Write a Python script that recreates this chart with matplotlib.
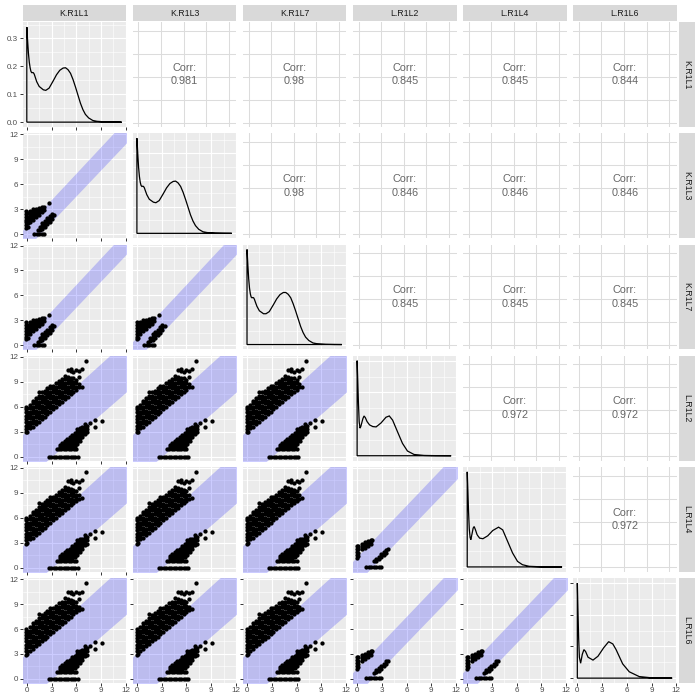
import matplotlib
matplotlib.use("Agg")
import matplotlib.pyplot as plt
from matplotlib.ticker import FixedLocator, MaxNLocator, AutoMinorLocator

plt.rcParams['font.family'] = ['Liberation Sans', 'DejaVu Sans']

names = ['K.R1L1', 'K.R1L3', 'K.R1L7', 'L.R1L2', 'L.R1L4', 'L.R1L6']

# upper triangle correlations, row by row
corr_rows = [
    ['0.981', '0.98', '0.845', '0.845', '0.844'],
    ['0.98', '0.846', '0.846', '0.846'],
    ['0.845', '0.845', '0.845'],
    ['0.972', '0.972'],
    ['0.972'],
]

# diagonal densities
k1_x = [0.0, 0.1, 0.2, 0.3, 0.4, 0.5, 0.6, 0.7, 0.8, 0.9, 1.0, 1.2, 1.5, 2.0, 2.3, 2.7,
        3.2, 3.6, 4.0, 4.4, 4.7, 5.0, 5.3, 5.6, 5.9, 6.2, 6.5, 6.8, 7.1, 7.5, 8.0, 8.5,
        9.5, 10.5, 11.5]
k1_y = [0.341, 0.29, 0.245, 0.215, 0.195, 0.182, 0.177, 0.178, 0.177, 0.172, 0.163,
        0.145, 0.128, 0.116, 0.114, 0.122, 0.148, 0.170, 0.186, 0.194, 0.195, 0.188,
        0.175, 0.153, 0.126, 0.097, 0.068, 0.045, 0.028, 0.015, 0.006, 0.003, 0.001,
        0.0003, 0.0]
k3_y = [0.357, 0.30, 0.248, 0.214, 0.192, 0.180, 0.176, 0.177, 0.176, 0.171, 0.162,
        0.145, 0.128, 0.117, 0.115, 0.123, 0.149, 0.171, 0.187, 0.195, 0.196, 0.189,
        0.176, 0.154, 0.127, 0.098, 0.069, 0.046, 0.029, 0.015, 0.006, 0.003, 0.001,
        0.0003, 0.0]
k7_y = [0.358, 0.30, 0.248, 0.213, 0.191, 0.179, 0.176, 0.177, 0.176, 0.170, 0.161,
        0.144, 0.127, 0.116, 0.116, 0.124, 0.150, 0.172, 0.188, 0.196, 0.196, 0.189,
        0.176, 0.153, 0.126, 0.097, 0.068, 0.045, 0.028, 0.015, 0.006, 0.003, 0.001,
        0.0003, 0.0]

l2_x = [0.0, 0.08, 0.16, 0.25, 0.35, 0.45, 0.55, 0.7, 0.84, 1.0, 1.2, 1.5, 1.9, 2.3,
        2.9, 3.5, 3.9, 4.3, 4.9, 5.5, 6.1, 6.9, 8.1, 9.5, 11.4]
l2_y = [0.600, 0.470, 0.330, 0.215, 0.174, 0.185, 0.205, 0.234, 0.251, 0.240, 0.216,
        0.195, 0.184, 0.182, 0.207, 0.243, 0.251, 0.225, 0.151, 0.078, 0.030, 0.008,
        0.002, 0.0006, 0.0]
l4_x = [0.0, 0.08, 0.16, 0.25, 0.35, 0.44, 0.56, 0.72, 0.84, 1.0, 1.2, 1.5, 1.9, 2.5,
        3.1, 3.8, 4.3, 4.9, 5.5, 6.1, 6.7, 7.5, 9.1, 11.5]
l4_y = [0.600, 0.480, 0.348, 0.240, 0.186, 0.172, 0.203, 0.245, 0.255, 0.234, 0.203,
        0.182, 0.178, 0.197, 0.230, 0.251, 0.234, 0.161, 0.088, 0.035, 0.014, 0.004,
        0.0006, 0.0]
l6_x = [0.0, 0.08, 0.16, 0.25, 0.4, 0.6, 0.8, 1.0, 1.3, 1.9, 2.5, 3.2, 3.8, 4.3, 4.7,
        5.5, 6.3, 7.5, 9.0, 11.5]
l6_y = [0.600, 0.420, 0.252, 0.132, 0.094, 0.150, 0.180, 0.168, 0.132, 0.114, 0.138,
        0.192, 0.230, 0.216, 0.180, 0.090, 0.040, 0.010, 0.002, 0.0]

diag_x = [k1_x, k1_x, k1_x, l2_x, l4_x, l6_x]
diag_y = [k1_y, k3_y, k7_y, l2_y, l4_y, l6_y]

# scatter clusters: columns (x, [y...]) and rows (y, [x...])
kk_cols = [(-0.05, [0.7, 1.05, 1.4, 1.75, 2.1, 2.45, 2.8]), (0.1, [0.9, 1.3, 1.7, 2.1, 2.5]),
           (0.4, [1.4, 1.75, 2.1, 2.45, 2.8]), (0.75, [1.7, 2.05, 2.4, 2.75, 3.0]),
           (1.1, [2.0, 2.35, 2.7, 3.05]), (1.45, [2.3, 2.65, 3.0, 3.2]),
           (1.8, [2.6, 2.95, 3.25]), (2.1, [2.95, 3.3]), (2.73, [3.7]),
           (1.3, [0.45]), (1.6, [0.5, 0.85]), (1.9, [0.65, 1.0, 1.3]),
           (2.2, [0.9, 1.25, 1.6]), (2.5, [1.2, 1.55, 1.9]), (2.8, [1.5, 1.85, 2.2]),
           (3.1, [1.85, 2.2, 2.45]), (3.35, [2.3])]
kk_rows = [(0.0, [0.9, 1.2, 1.5, 1.8, 2.1])]

lk_cols = [(-0.05, [2.9, 3.3, 3.7, 4.1, 4.5, 4.9, 5.3, 5.7, 6.0]),
           (0.08, [3.0, 3.4, 3.8, 4.2, 4.6, 5.0, 5.4, 5.8]),
           (0.4, [3.4, 3.8, 4.2, 4.6, 5.0, 5.4, 5.8, 6.2]),
           (0.75, [3.6, 4.0, 4.4, 4.8, 5.2, 5.6, 6.0, 6.4, 6.7]),
           (1.1, [3.9, 4.3, 4.7, 5.1, 5.5, 5.9, 6.3, 6.7, 7.0]),
           (1.45, [4.2, 4.6, 5.0, 5.4, 5.8, 6.2, 6.6, 7.0, 7.3, 7.8]),
           (1.8, [4.5, 4.9, 5.3, 5.7, 6.1, 6.5, 6.9, 7.3, 7.7]),
           (2.15, [4.8, 5.2, 5.6, 6.0, 6.4, 6.8, 7.2, 7.6, 7.9]),
           (2.5, [5.1, 5.5, 5.9, 6.3, 6.7, 7.1, 7.5, 7.9, 8.2]),
           (2.85, [5.4, 5.8, 6.2, 6.6, 7.0, 7.4, 7.8, 8.2, 8.5]),
           (3.2, [5.7, 6.1, 6.5, 6.9, 7.3, 7.7, 8.1, 8.5]),
           (3.55, [6.0, 6.4, 6.8, 7.2, 7.6, 8.0, 8.4, 8.8]),
           (3.9, [6.3, 6.7, 7.1, 7.5, 7.9, 8.3, 8.7, 9.1]),
           (4.25, [6.6, 7.0, 7.4, 7.8, 8.2, 8.6, 9.0, 9.3]),
           (4.6, [6.9, 7.3, 7.7, 8.1, 8.5, 8.9, 9.3, 9.7]),
           (4.95, [7.2, 7.6, 8.0, 8.4, 8.8, 9.2, 9.6, 10.4]),
           (5.3, [7.5, 7.9, 8.3, 8.7, 9.1, 9.5, 10.3, 10.5]),
           (5.65, [7.8, 8.2, 8.6, 9.0, 9.4, 10.2]),
           (6.0, [8.0, 8.4, 8.8, 9.2, 10.4]), (6.35, [8.3, 8.7, 9.6, 10.3]),
           (6.7, [8.4, 10.5]), (7.2, [11.5]),
           (4.0, [1.15, 1.4]), (4.3, [1.1, 1.4, 1.65]), (4.6, [1.1, 1.4, 1.7, 1.9]),
           (4.9, [1.1, 1.4, 1.7, 2.0, 2.1]), (5.2, [1.1, 1.4, 1.7, 2.0, 2.3]),
           (5.5, [1.2, 1.5, 1.8, 2.1, 2.4, 2.6]), (5.8, [1.3, 1.6, 1.9, 2.2, 2.5, 2.8]),
           (6.1, [1.5, 1.8, 2.1, 2.4, 2.7, 3.0, 3.3]), (6.4, [1.9, 2.2, 2.5, 2.8, 3.1, 3.4]),
           (6.7, [2.3, 2.6, 2.9, 3.2, 3.5]), (7.0, [2.7, 3.0, 3.3, 3.6, 3.9]),
           (7.3, [2.9, 3.3, 3.7]), (7.6, [4.0]), (8.3, [3.6, 4.4]), (9.15, [4.3])]
lk_rows = [(0.0, [2.65, 2.95, 3.25, 3.55, 3.85, 4.15, 4.45, 4.75, 5.05, 5.35, 5.65, 5.9, 6.2]),
           (0.85, [3.6, 3.9, 4.2, 4.5, 4.8, 5.1, 5.4, 5.7, 6.0])]

ll_cols = [(-0.05, [1.2, 1.55, 1.9, 2.25, 2.6]), (0.15, [1.4, 1.8, 2.2, 2.6]),
           (0.6, [2.2, 2.55, 2.85]), (0.95, [2.4, 2.75, 3.05]), (1.3, [2.6, 2.95, 3.2]),
           (1.65, [2.85, 3.2, 3.35]), (1.85, [3.3]),
           (2.0, [0.75]), (2.3, [0.85, 1.1]), (2.6, [1.0, 1.3]), (2.9, [1.25, 1.6]),
           (3.2, [1.5, 1.85]), (3.45, [1.8, 2.1]), (3.7, [2.2])]
ll_rows = [(0.05, [1.1, 1.4, 1.7, 2.0, 2.3, 2.6, 2.9])]

# ribbon edges: (intercept, slope) for lower and upper edge
band_kk = [(-1.65, 1.045), (1.0, 1.06)]
band_lk = [(-2.6, 0.86), (3.1, 0.9)]
band_ll = [(-1.8, 1.03), (1.32, 1.04)]

ticks = [0, 3, 6, 9, 12]


def flatten(cols, rows):
    xs, ys = [], []
    for x, yl in cols:
        xs += [x] * len(yl)
        ys += yl
    for y, xl in rows:
        xs += xl
        ys += [y] * len(xl)
    return xs, ys


fig = plt.figure(figsize=(7, 7), dpi=100)
W = H = 700.0
left0, top0 = 22.7, 22.3
pw, ph, gap = 103.5, 104.6, 6.6
xlim = (-0.5, 12.05)
ylim = (-0.48, 12.1)


def add_px(x, y, w, h):
    return fig.add_axes([x / W, 1 - (y + h) / H, w / W, h / H])


def grey_panel(ax):
    ax.set_facecolor('#EBEBEB')
    ax.set_axisbelow(True)
    ax.grid(which='major', color='white', lw=0.8)
    ax.grid(which='minor', color='white', lw=0.4)
    ax.xaxis.set_major_locator(FixedLocator(ticks))
    ax.xaxis.set_minor_locator(FixedLocator([1.5, 4.5, 7.5, 10.5]))


for r in range(6):
    for c in range(6):
        ax = add_px(left0 + c * (pw + gap), top0 + r * (ph + gap), pw, ph)
        for s in ax.spines.values():
            s.set_visible(False)
        ax.tick_params(which='both', length=0, labelleft=False, labelbottom=False)

        if r < c:
            ax.set_facecolor('white')
            ax.set_xlim(-0.75, 13.0)
            ax.set_ylim(-0.55, 13.1)
            ax.set_xticks(ticks)
            ax.set_yticks(ticks)
            ax.grid(color='#DCDCDC', lw=0.75)
            ax.set_axisbelow(True)
            ax.text(0.5, 0.5, 'Corr:\n' + corr_rows[r][c - r - 1], transform=ax.transAxes,
                    ha='center', va='center', fontsize=7.8, color='#666666', linespacing=1.45)
            continue

        grey_panel(ax)
        ax.set_xlim(*xlim)
        if r == c:
            dx = [0.0] + diag_x[r] + [diag_x[r][-1]]
            dy = [0.0] + diag_y[r] + [0.0]
            ax.fill(dx, dy, facecolor='none', edgecolor='black', lw=0.9, zorder=3)
            top = max(diag_y[r])
            ax.set_ylim(-0.05 * top, 1.05 * top)
            ax.yaxis.set_major_locator(MaxNLocator(nbins=4, steps=[1, 2, 5, 10]))
            ax.yaxis.set_minor_locator(AutoMinorLocator(2))
            if c == 0:
                ax.yaxis.set_major_formatter(lambda v, p: '%.1f' % v)
        else:
            ax.set_ylim(*ylim)
            ax.yaxis.set_major_locator(FixedLocator(ticks))
            ax.yaxis.set_minor_locator(FixedLocator([1.5, 4.5, 7.5, 10.5]))
            if r < 3:
                cols, rows, band = kk_cols, kk_rows, band_kk
            elif c < 3:
                cols, rows, band = lk_cols, lk_rows, band_lk
            else:
                cols, rows, band = ll_cols, ll_rows, band_ll
            bx = [-1.0, 14.0]
            lo = [band[0][0] + band[0][1] * v for v in bx]
            hi = [band[1][0] + band[1][1] * v for v in bx]
            ax.fill_between(bx, lo, hi, color='blue', alpha=0.2, lw=0, zorder=1)
            xs, ys = flatten(cols, rows)
            ax.scatter(xs, ys, s=9.5, c='black', linewidths=0, zorder=2)

        if c == 0:
            ax.tick_params(which='major', left=True, labelleft=True, length=2.0, width=0.7,
                           color='#333333', labelcolor='#4D4D4D', labelsize=5.8, pad=1.3)
        if r == 5:
            ax.tick_params(which='major', bottom=True, labelbottom=True, length=2.0, width=0.7,
                           color='#333333', labelcolor='#4D4D4D', labelsize=5.8, pad=1.3)

# strips
for i, name in enumerate(names):
    sx = add_px(left0 + i * (pw + gap), 5.0, pw, 16.0)
    sx.set_facecolor('#D9D9D9')
    sx.set_xticks([])
    sx.set_yticks([])
    for s in sx.spines.values():
        s.set_visible(False)
    sx.text(0.5, 0.5, name, transform=sx.transAxes, ha='center', va='center',
            fontsize=6.3, color='#1A1A1A')

    sy = add_px(678.5, top0 + i * (ph + gap), 16.0, ph)
    sy.set_facecolor('#D9D9D9')
    sy.set_xticks([])
    sy.set_yticks([])
    for s in sy.spines.values():
        s.set_visible(False)
    sy.text(0.5, 0.5, name, transform=sy.transAxes, ha='center', va='center',
            rotation=270, fontsize=6.3, color='#1A1A1A')

fig.savefig('out.png', dpi=100, facecolor='white')
